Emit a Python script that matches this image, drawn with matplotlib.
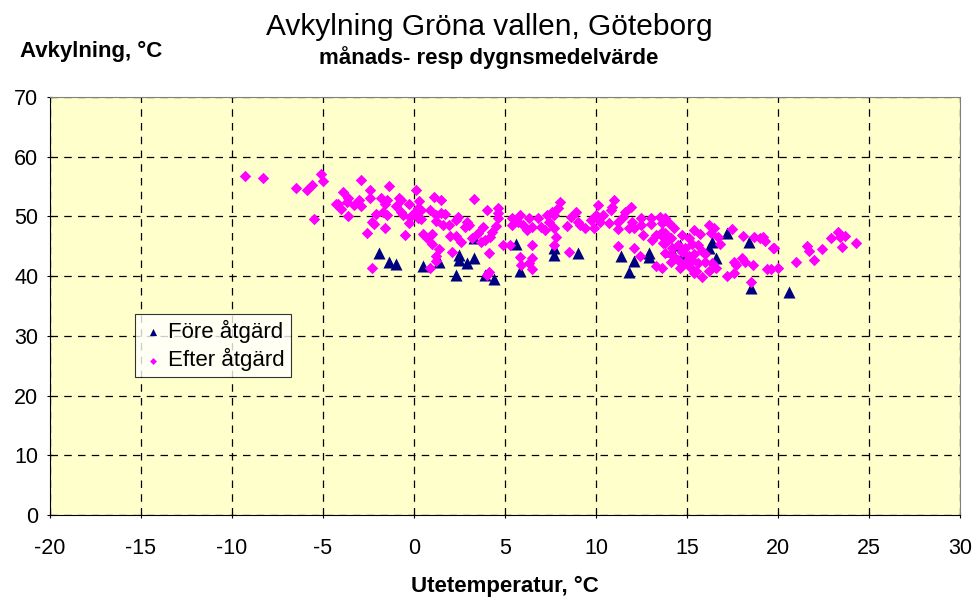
import matplotlib
matplotlib.use("Agg")
import matplotlib.pyplot as plt
import numpy as np

plt.rcParams['font.family'] = ['Liberation Sans', 'DejaVu Sans']

# Före åtgärd (monthly means)
fore_x = [-1.9, -1.4, -1.0, 0.5, 1.4, 2.5, 2.5, 2.9, 3.3, 2.3, 3.9, 4.4, 3.3, 5.6, 5.8,
          7.7, 7.7, 9.0, 11.4, 11.8, 12.1, 12.9, 12.9, 14.2, 14.6, 14.8, 16.2, 16.4,
          16.6, 17.2, 18.4, 18.5, 20.6]
fore_y = [43.9, 42.4, 42.0, 41.7, 42.4, 43.6, 42.7, 42.2, 43.0, 40.2, 40.2, 39.5, 46.4,
          45.4, 40.9, 44.7, 43.6, 43.9, 43.4, 40.7, 42.5, 43.9, 43.2, 44.2, 45.2, 43.7,
          44.7, 45.7, 43.0, 47.2, 45.7, 38.0, 37.3]

# Efter åtgärd (daily means)
efter_x = [
    -9.3, -8.3, -6.5, -5.9, -5.6, -5.1, -5.0, -5.5, -4.3,
    -2.9, -3.9, -3.6, -3.7, -4.2, -4.0, -3.3, -3.0, -2.9, -2.4, -2.4, -1.4, -1.8, -1.5,
    -1.6, -1.0, -0.8, -0.7, -0.3, 0.1, 0.3, 1.1, 1.5, -3.6, -2.1, -1.7, -1.5, -2.3, -2.2,
    -1.6, -2.6, -0.7, -0.6, -0.2, 0.05, 0.2, 0.4, 0.2, -0.3, -0.5, 0.4, 0.9, 1.2, 1.2,
    1.5, 1.6, 0.5, 0.7, 1.0, 1.0, 1.4, 1.2, 1.2, -2.3, 0.9,
    3.3, 4.0, 4.6, 4.6, 1.7, 2.4, 2.3, 1.9, 2.9, 2.8, 3.0, 3.8, 4.5, 4.6, 4.3, 4.2, 3.5,
    3.2, 2.0, 2.3, 2.6, 3.7, 3.9, 4.1, 2.1, 4.9, 5.3, 5.4, 5.4, 5.7, 5.8, 6.0, 6.3, 6.2,
    6.5, 6.8, 7.0, 7.2, 7.4, 7.3, 7.6, 6.5, 5.8, 6.5, 6.3, 5.9, 6.5, 4.1, 4.0,
    8.0, 7.9, 7.7, 8.9, 8.6, 8.4, 9.1, 9.0, 9.4, 9.7, 10.0, 10.1, 10.2, 9.9, 10.4, 10.7,
    10.8, 11.0, 10.9, 11.2, 11.2, 11.5, 11.6, 11.9, 12.0, 11.8, 12.1, 12.5, 12.5, 12.6,
    13.0, 13.0, 13.5, 13.6, 13.3, 13.1, 13.6, 13.7, 13.7, 11.2, 12.1, 12.4, 8.5, 13.3,
    13.6, 7.7, 7.8, 7.7,
    13.8, 14.0, 14.3, 13.8, 14.1, 14.7, 15.1, 15.4, 15.7, 16.2, 16.5, 16.3, 16.7, 16.8,
    17.5, 18.1, 18.7, 19.0, 19.3, 19.2, 19.7, 13.8, 14.2, 14.5, 14.9, 15.3, 15.6, 15.8,
    13.8, 14.2, 14.7, 15.1, 15.4, 14.1, 14.5, 14.9, 15.3, 15.6, 16.0, 16.4, 14.6, 15.2,
    15.5, 16.2, 16.6, 15.8, 15.4, 16.0, 17.2, 17.6, 17.7, 17.6, 18.0, 18.2, 18.6, 19.4,
    19.6, 18.5,
    19.8, 20.0, 21.0, 21.6, 21.7, 22.0, 22.4, 22.9, 23.3, 23.4, 23.7, 23.5, 24.3,
]
efter_y = [
    56.8, 56.5, 54.8, 54.4, 55.2, 57.1, 56.0, 49.6, 52.1,
    56.1, 54.1, 53.1, 52.4, 52.1, 51.3, 51.9, 52.8, 51.8, 54.4, 53.1, 55.1, 53.1, 52.8,
    52.1, 51.8, 53.1, 52.8, 52.1, 54.4, 52.6, 53.3, 52.8, 50.1, 50.4, 50.8, 50.3, 49.1,
    48.8, 48.1, 47.2, 50.8, 50.3, 49.9, 50.8, 51.4, 51.1, 49.7, 48.9, 46.9, 49.6, 51.1,
    50.3, 49.2, 50.6, 48.6, 47.1, 46.4, 47.1, 45.4, 44.6, 43.4, 42.5, 41.4, 41.4,
    52.9, 51.1, 51.4, 50.6, 50.4, 49.9, 49.4, 48.6, 49.1, 48.2, 48.6, 48.2, 48.4, 49.7,
    47.4, 46.6, 47.2, 46.4, 46.7, 46.7, 45.7, 45.7, 46.1, 43.9, 44.1, 45.2, 45.2, 48.6,
    49.7, 49.1, 50.3, 48.6, 49.7, 47.7, 48.2, 49.7, 48.2, 47.7, 49.1, 50.3, 50.8, 45.2,
    43.2, 43.0, 42.2, 41.9, 41.2, 40.7, 40.2,
    52.4, 51.4, 50.3, 50.8, 49.9, 48.4, 48.6, 49.1, 48.1, 49.4, 50.3, 51.9, 49.1, 48.1,
    50.3, 48.9, 51.1, 52.8, 51.6, 49.1, 47.9, 49.9, 50.8, 51.6, 49.1, 48.1, 48.1, 49.7,
    48.6, 46.9, 49.7, 48.7, 49.9, 48.9, 46.9, 46.1, 47.4, 46.6, 45.6, 45.1, 44.7, 43.4,
    44.1, 41.7, 41.4, 48.1, 46.6, 45.2,
    49.7, 48.9, 48.1, 47.2, 46.4, 46.9, 46.4, 47.7, 47.1, 48.6, 48.1, 47.2, 46.6, 45.4,
    47.9, 46.7, 46.6, 46.4, 45.9, 46.6, 44.7, 45.6, 44.7, 45.2, 44.7, 45.4, 45.2, 44.2,
    43.9, 43.6, 44.1, 43.4, 43.7, 42.4, 42.7, 42.2, 42.7, 42.2, 42.4, 42.2, 41.4, 41.4,
    40.9, 40.9, 41.4, 39.9, 40.5, 43.7, 40.0, 40.5, 41.9, 42.4, 43.0, 42.4, 41.9, 41.2,
    41.2, 39.0,
    44.7, 41.4, 42.4, 45.1, 44.2, 42.7, 44.6, 46.4, 47.4, 46.6, 46.7, 44.9, 45.6,
]

x_ticks = [-20, -15, -10, -5, 0, 5, 10, 15, 20, 25, 30]
y_ticks = [0, 10, 20, 30, 40, 50, 60, 70]

fig = plt.figure(figsize=(9.79, 5.99), dpi=100)
ax = fig.add_axes([50/979, 1-515/599, 910/979, 418/599])
ax.set_facecolor('#FFFFCC')

ax.scatter(fore_x, fore_y, marker='^', s=75, color='#000080', zorder=3,
           label='Före åtgärd', linewidths=0)
ax.scatter(efter_x, efter_y, marker='D', s=34, color='#FF00FF', zorder=4,
           label='Efter åtgärd', linewidths=0)

ax.set_xlim(-20, 30)
ax.set_ylim(0, 70)
ax.set_xticks(x_ticks)
ax.set_yticks(y_ticks)
ax.set_xticklabels([str(t) for t in x_ticks])
ax.grid(True, color='black', linestyle=(0, (6, 5)), linewidth=0.9)
ax.set_axisbelow(True)
ax.tick_params(axis='both', labelsize=15.5, length=5, direction='inout', width=0.8)
ax.tick_params(axis='x', pad=14)
ax.tick_params(axis='y', pad=6)
for side in ['left', 'bottom']:
    ax.spines[side].set_color('black')
for side in ['top', 'right']:
    ax.spines[side].set_color('#808080')

ax.set_xlabel('Utetemperatur, °C', fontsize=16, fontweight='bold', labelpad=12)

leg = ax.legend(loc='upper left', bbox_to_anchor=(85/910, (515-314)/418), frameon=True,
                fancybox=False, edgecolor='black', fontsize=16, handletextpad=0.15,
                borderpad=0.25, labelspacing=0.25, markerscale=0.6, handlelength=1.1,
                borderaxespad=0)
leg.get_frame().set_linewidth(0.8)

fig.text(489/979, 1-27/599, 'Avkylning Gröna vallen, Göteborg', ha='center', va='center',
         fontsize=21.5)
fig.text(489/979, 1-58/599, 'månads- resp dygnsmedelvärde', ha='center', va='center',
         fontsize=16, fontweight='bold')
fig.text(20/979, 1-51/599, 'Avkylning, °C', ha='left', va='center', fontsize=16,
         fontweight='bold')

fig.savefig('out.png', dpi=100)
